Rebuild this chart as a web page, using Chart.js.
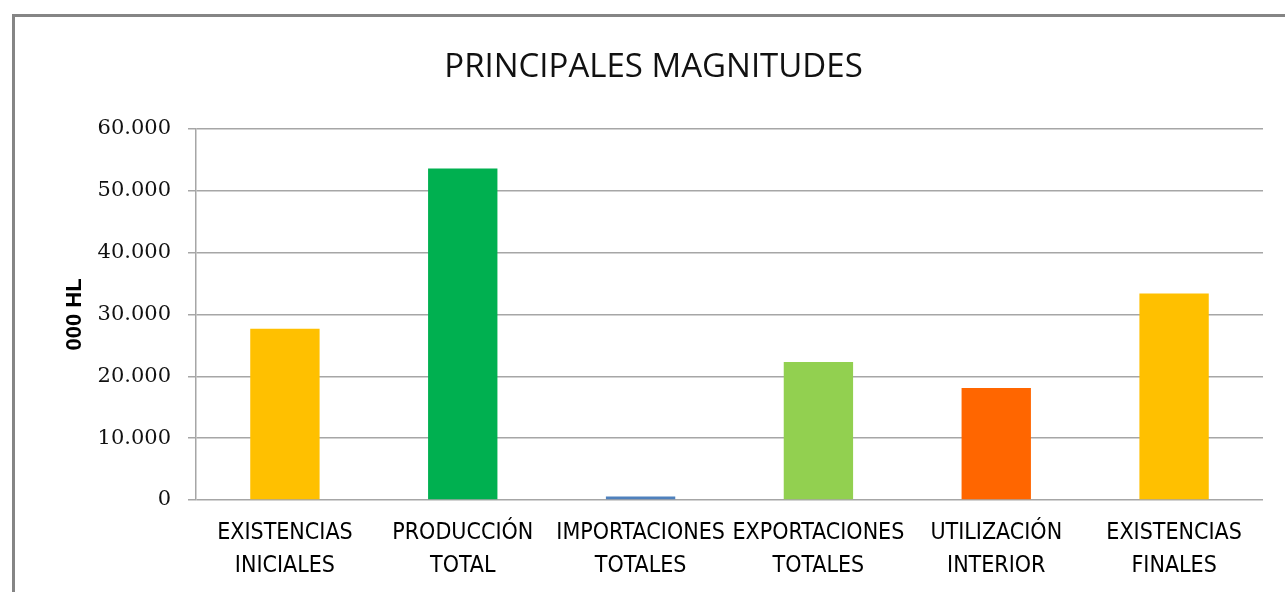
<!DOCTYPE html>
<html>
<head>
<meta charset="utf-8">
<script src="https://cdn.jsdelivr.net/npm/chart.js@4.4.1/dist/chart.umd.min.js"></script>
<style>
  html, body { margin: 0; padding: 0; background: #ffffff; overflow: hidden; }
  #wrap { position: relative; width: 1285px; height: 592px; }
  #frame { position: absolute; left: 12px; top: 14px; width: 1300px; height: 600px;
           border-left: 3px solid #858585; border-top: 3px solid #858585; box-sizing: border-box; pointer-events: none; }
  canvas { position: absolute; left: 0; top: 0; }
</style>
</head>
<body>
<div id="wrap">
  <canvas id="c" width="1285" height="592"></canvas>
  <div id="frame"></div>
</div>
<script>
const categories = [
  ["EXISTENCIAS", "INICIALES"],
  ["PRODUCCIÓN", "TOTAL"],
  ["IMPORTACIONES", "TOTALES"],
  ["EXPORTACIONES", "TOTALES"],
  ["UTILIZACIÓN", "INTERIOR"],
  ["EXISTENCIAS", "FINALES"]
];
const values = [27700, 53600, 550, 22300, 18100, 33400];
const barColors = ["#FFC000", "#00B050", "#4F81BD", "#92D050", "#FF6600", "#FFC000"];
const chartTitle = "PRINCIPALES MAGNITUDES";
const yAxisTitle = "000 HL";
const yMin = 0, yMax = 60000, yStep = 10000;

function fmt(v) {
  return String(v).replace(/\B(?=(\d{3})+(?!\d))/g, ".");
}

new Chart(document.getElementById("c"), {
  type: "bar",
  data: {
    labels: categories,
    datasets: [{
      data: values,
      backgroundColor: barColors,
      borderWidth: 0,
      barPercentage: 0.39,
      categoryPercentage: 1.0,
      yAxisID: "y"
    }]
  },
  options: {
    responsive: false,
    devicePixelRatio: 1,
    animation: false,
    layout: { padding: { left: 22, right: 0, top: 0, bottom: 0 } },
    plugins: {
      legend: { display: false },
      tooltip: { enabled: false },
      title: {
        display: true,
        text: chartTitle,
        color: "#111111",
        font: { family: "'Open Sans', 'Liberation Sans', sans-serif", size: 33, weight: "normal", lineHeight: 1.2 },
        padding: { top: 48, bottom: 41.4 }
      }
    },
    scales: {
      x: {
        grid: { display: false, drawTicks: false },
        border: { display: false },
        ticks: {
          autoSkip: false,
          maxRotation: 0,
          minRotation: 0,
          padding: 17,
          color: "#000000",
          font: { family: "'DejaVu Sans Condensed', 'Liberation Sans Narrow', sans-serif", size: 23, lineHeight: 1.43 }
        },
        afterFit: (s) => { s.height = 92; }
      },
      y: {
        min: yMin,
        max: yMax,
        ticks: {
          stepSize: yStep,
          padding: 17,
          color: "#111111",
          font: { family: "'DejaVu Serif', serif", size: 21 },
          callback: (v) => fmt(v)
        },
        grid: { color: "#a6a6a6", lineWidth: 1.5, tickLength: 8, tickColor: "#a6a6a6", drawTicks: true },
        border: { display: true, color: "#a6a6a6", width: 1.5 },
        title: {
          display: true,
          text: yAxisTitle,
          color: "#000000",
          font: { family: "'Liberation Sans', Arial, sans-serif", size: 22, weight: "bold", lineHeight: 1.2 },
          padding: { top: 40, bottom: 0 }
        },
        afterFit: (s) => { s.width = 174; }
      },
      yRight: {
        type: "linear",
        position: "right",
        display: true,
        grid: { display: false, drawTicks: false },
        border: { display: false },
        ticks: { display: false },
        afterFit: (s) => { s.width = 22; }
      }
    }
  }
});
</script>
</body>
</html>
